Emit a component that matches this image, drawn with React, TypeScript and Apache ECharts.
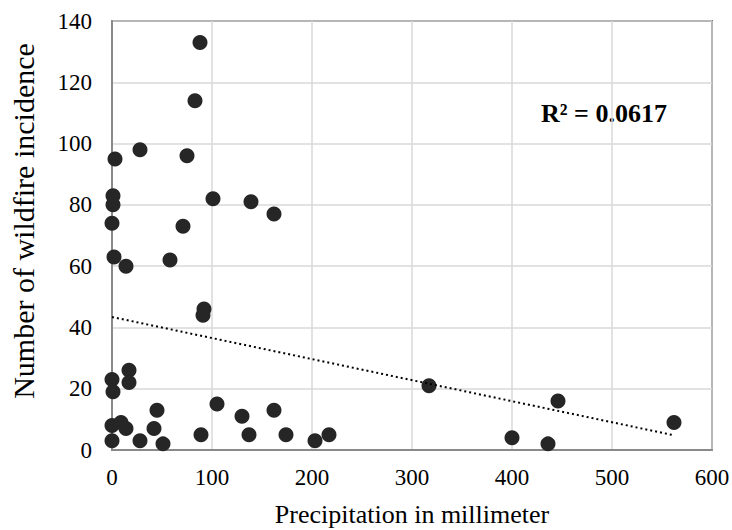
import React, { useEffect, useRef } from "react";
import * as echarts from "echarts";

const precipitation = [
  88, 83, 28, 3, 75, 1, 1, 101, 139, 162, 0, 71, 2, 14, 58, 92, 91, 17, 0, 17, 1,
  45, 105, 130, 162, 0, 9, 14, 42, 0, 28, 51, 89, 137, 174, 203, 217, 317, 400, 436, 446, 562,
];
const incidence = [
  133, 114, 98, 95, 96, 83, 80, 82, 81, 77, 74, 73, 63, 60, 62, 46, 44, 26, 23, 22, 19,
  13, 15, 11, 13, 8, 9, 7, 7, 3, 3, 2, 5, 5, 5, 3, 5, 21, 4, 2, 16, 9,
];
const trendX = [0, 562];
const trendY = [43.4, 4.8];
const xTicks = [0, 100, 200, 300, 400, 500, 600];
const yTicks = [0, 20, 40, 60, 80, 100, 120, 140];
const rSquaredLabel = "R² = 0.0617";
const xTitle = "Precipitation in millimeter";
const yTitle = "Number of wildfire incidence";

export default function App() {
  const ref = useRef<HTMLDivElement>(null);
  useEffect(() => {
    if (!ref.current) return;
    const chart = echarts.init(ref.current, null, { renderer: "svg" });
    const font = "Liberation Serif, Times New Roman, DejaVu Serif, serif";
    chart.setOption({
      animation: false,
      backgroundColor: "#ffffff",
      textStyle: { fontFamily: font },
      grid: {
        left: 112,
        right: 20,
        top: 21,
        bottom: 80,
        containLabel: false,
        outerBoundsMode: "none",
        show: true,
        borderColor: "#1a1a1a",
        borderWidth: 1.5,
      },
      xAxis: {
        type: "value",
        min: xTicks[0],
        max: xTicks[xTicks.length - 1],
        interval: 100,
        name: xTitle,
        nameLocation: "middle",
        nameGap: 51,
        nameTextStyle: { fontFamily: font, fontSize: 26, color: "#000" },
        axisLine: { show: true, lineStyle: { color: "#8a8a8a", width: 2 } },
        axisTick: { show: false },
        axisLabel: { fontFamily: font, fontSize: 23, color: "#000", margin: 16 },
        splitLine: { show: true, lineStyle: { color: "#d9d9d9", width: 1.5 } },
      },
      yAxis: {
        type: "value",
        min: yTicks[0],
        max: yTicks[yTicks.length - 1],
        interval: 20,
        axisLine: { show: true, lineStyle: { color: "#8a8a8a", width: 2 } },
        axisTick: { show: false },
        axisLabel: { fontFamily: font, fontSize: 23, color: "#000", margin: 20 },
        splitLine: { show: true, lineStyle: { color: "#d9d9d9", width: 1.5 } },
      },
      series: [
        {
          type: "line",
          data: trendX.map((x, i) => [x, trendY[i]]),
          showSymbol: false,
          symbol: "none",
          lineStyle: { color: "#000", width: 2, type: [2, 3] },
          z: 3,
        },
        {
          type: "scatter",
          data: precipitation.map((x, i) => [x, incidence[i]]),
          symbol: "circle",
          symbolSize: 15,
          itemStyle: { color: "#262626", opacity: 1 },
          z: 2,
        },
      ],
      graphic: [
        {
          type: "text",
          left: 541,
          top: 100,
          style: {
            text: rSquaredLabel,
            fontFamily: font,
            fontSize: 26,
            fontWeight: "bold",
            fill: "#000",
          },
        },
        {
          type: "text",
          x: 23,
          y: 221,
          rotation: Math.PI / 2,
          style: {
            text: yTitle,
            fontFamily: font,
            fontSize: 30,
            fill: "#000",
            align: "center",
            verticalAlign: "middle",
          },
        },
      ],
    });
    return () => chart.dispose();
  }, []);
  return (
    <div
      ref={ref}
      style={{ position: "absolute", left: 0, top: 0, width: 732, height: 530 }}
    />
  );
}
